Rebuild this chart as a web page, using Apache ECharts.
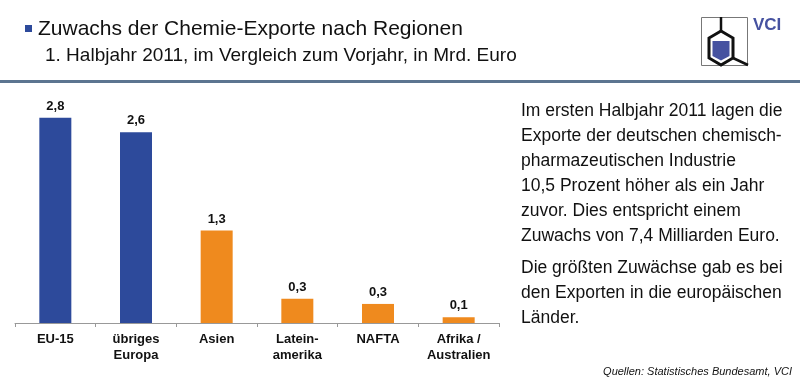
<!DOCTYPE html>
<html><head><meta charset="utf-8">
<script src="https://cdn.jsdelivr.net/npm/echarts@6/dist/echarts.min.js"></script>
<style>html,body{margin:0;padding:0;background:#fff}#c{width:800px;height:388px}</style>
</head><body><div id="c"></div>
<script>
const categories = ['EU-15', 'übriges\nEuropa', 'Asien', 'Latein-\namerika', 'NAFTA', 'Afrika /\nAustralien'];
const values = [2.8, 2.6, 1.26, 0.33, 0.26, 0.08];
const barColors = ['#2d4a9b', '#2d4a9b', '#ef8a1e', '#ef8a1e', '#ef8a1e', '#ef8a1e'];
const titleText = 'Zuwachs der Chemie-Exporte nach Regionen';
const subtitleText = '1. Halbjahr 2011, im Vergleich zum Vorjahr, in Mrd. Euro';
const bodyLines1 = ['Im ersten Halbjahr 2011 lagen die', 'Exporte der deutschen chemisch-', 'pharmazeutischen Industrie', '10,5 Prozent höher als ein Jahr', 'zuvor. Dies entspricht einem', 'Zuwachs von 7,4 Milliarden Euro.'];
const bodyLines2 = ['Die größten Zuwächse gab es bei', 'den Exporten in die europäischen', 'Länder.'];
const sourceText = 'Quellen: Statistisches Bundesamt, VCI';

const chart = echarts.init(document.getElementById('c'));
const F = '"Liberation Sans", Arial, sans-serif';
const graphics = [
  {type:'rect', shape:{x:25, y:25, width:7, height:7}, style:{fill:'#2d4a9b'}},
  {type:'text', x:38, y:18.5, style:{text:titleText, font:'21px '+F, fill:'#111'}},
  {type:'text', x:45, y:46.5, style:{text:subtitleText, font:'19px '+F, fill:'#111'}},
  {type:'rect', shape:{x:0, y:80, width:800, height:3}, style:{fill:'#5c7590'}},
  // logo
  {type:'rect', shape:{x:701.5, y:17.5, width:46, height:48}, style:{fill:'none', stroke:'#777', lineWidth:1}},
  {type:'polygon', shape:{points:[[712.5,41],[729.5,41],[729.5,56],[721,60.5],[712.5,56]]}, style:{fill:'#4652a0'}},
  {type:'polyline', shape:{points:[[721,31],[733,38],[733,58],[721,65],[709,58],[709,38],[721,31]]}, style:{stroke:'#111', lineWidth:3, fill:'none', lineJoin:'miter'}},
  {type:'line', shape:{x1:721, y1:17, x2:721, y2:31}, style:{stroke:'#111', lineWidth:2.5}},
  {type:'line', shape:{x1:733, y1:58, x2:748, y2:65}, style:{stroke:'#111', lineWidth:2.5}},
  {type:'text', x:753, y:17, style:{text:'VCI', font:'bold 17px '+F, fill:'#4652a0'}},
  {type:'text', x:792, y:366, style:{text:sourceText, font:'italic 11px '+F, fill:'#111', align:'right'}}
];
bodyLines1.forEach((t,i)=>graphics.push({type:'text', x:521, y:102+i*25, style:{text:t, font:'17.5px '+F, fill:'#111'}}));
bodyLines2.forEach((t,i)=>graphics.push({type:'text', x:521, y:259+i*25, style:{text:t, font:'17.5px '+F, fill:'#111'}}));

chart.setOption({
  animation:false,
  grid:{left:15, right:301, top:103, bottom:65, containLabel:false},
  xAxis:{type:'category', data:categories,
    axisLine:{lineStyle:{color:'#999', width:1}},
    axisTick:{show:true, length:4, lineStyle:{color:'#999'}},
    axisLabel:{color:'#111', fontFamily:F, fontWeight:'bold', fontSize:13, lineHeight:16, margin:8, interval:0}},
  yAxis:{type:'value', min:0, max:3, show:false, splitLine:{show:false}},
  series:[{type:'bar', barWidth:32,
    data: values.map((v,i)=>({value:v, itemStyle:{color:barColors[i]}})),
    label:{show:true, position:'top', distance:5, color:'#111', fontFamily:F, fontWeight:'bold', fontSize:13,
      formatter:p=>p.value.toFixed(1).replace('.', ',')}}],
  graphic: graphics
});
</script></body></html>
